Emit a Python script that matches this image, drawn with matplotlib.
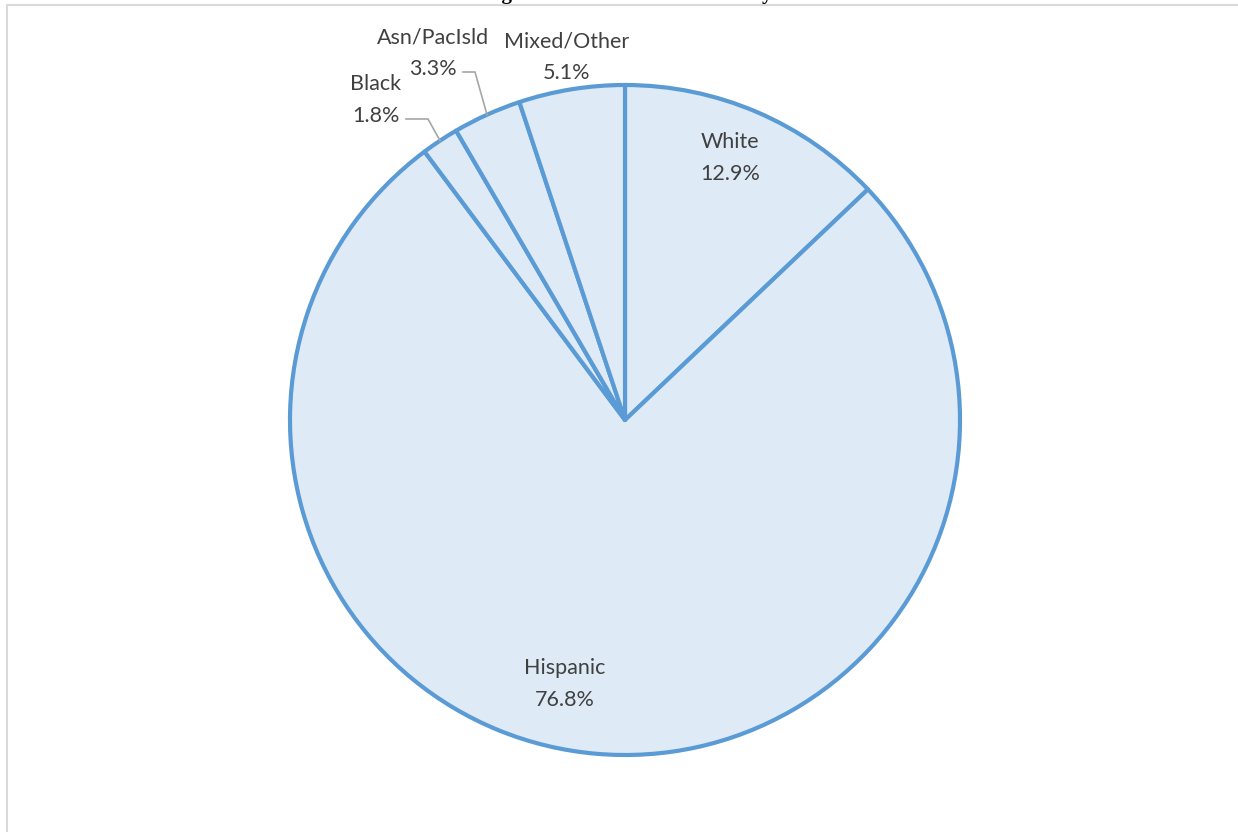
import matplotlib.pyplot as plt
import numpy as np

# Overall race/ethnicity shares (%), clockwise from 12 o'clock
categories = ["White", "Hispanic", "Black", "Asn/PacIsld", "Mixed/Other"]
shares = [12.9, 76.8, 1.8, 3.3, 5.1]

W, H = 1238, 832
CX, CY, R = 625, 420, 335  # pie centre / radius in pixels (y from top)

# label block centres (pixels from top-left) and leader line geometry
label_pos = [(730, 158), (565, 684), (376, 100), (433, 53), (567, 57)]
leader_elbow = [None, None, (428, 119), (475, 72), None]
leader_start = [None, None, (406, 119), (463, 72), None]

fill = "#DEEBF7"
edge = "#5B9BD5"
text_col = "#404040"


def py(y):
    return H - y


fig = plt.figure(figsize=(W / 100, H / 100), dpi=100)
ax = fig.add_axes([0, 0, 1, 1])

wedges, _ = ax.pie(
    shares,
    startangle=90,
    counterclock=False,
    center=(CX, py(CY)),
    radius=R,
    colors=[fill] * len(shares),
    wedgeprops=dict(edgecolor=edge, linewidth=3, joinstyle="round"),
)

for i, (name, val, w) in enumerate(zip(categories, shares, wedges)):
    lx, ly = label_pos[i]
    ax.text(lx, py(ly), f"{name}\n{val:.1f}%", ha="center", va="center",
            fontsize=15.5, color=text_col, family=["Lato", "DejaVu Sans"],
            linespacing=1.75)
    if leader_elbow[i] is not None:
        mid = np.deg2rad((w.theta1 + w.theta2) / 2)
        ex = CX + R * np.cos(mid)
        ey = py(CY) + R * np.sin(mid)
        sx, sy = leader_start[i]
        bx, by = leader_elbow[i]
        ax.plot([sx, bx, ex], [py(sy), py(by), ey], color="#A6A6A6", lw=1.2,
                solid_joinstyle="miter")

# chart-area border, runs off the right and bottom edges
ax.plot([7, 7, W + 5], [-5, py(5), py(5)], color="#D9D9D9", lw=1.5)

# figure caption sits above the chart area and is cut off by the page edge
ax.text(628, py(-1), "Figure 1. Overall Race/Ethnicity", ha="center",
        va="baseline", fontsize=15, fontweight="bold",
        family="Liberation Serif", color="black")

ax.set_xlim(0, W)
ax.set_ylim(0, H)
ax.set_aspect("equal")
ax.axis("off")

fig.savefig("out.png", dpi=100, facecolor="white")
